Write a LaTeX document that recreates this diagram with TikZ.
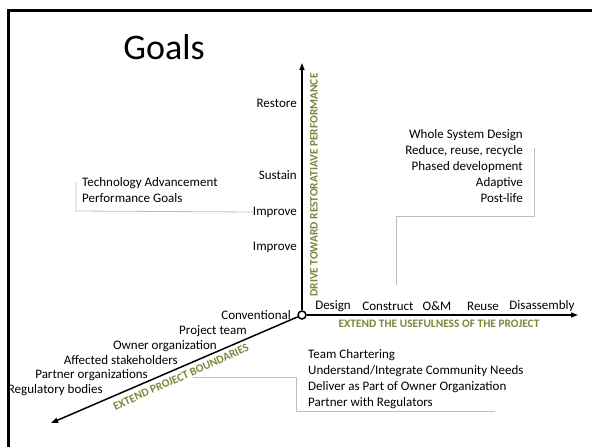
\documentclass[tikz,border=0pt]{standalone}
\usepackage{fontspec}
\setmainfont{Carlito}
\usetikzlibrary{arrows.meta}
\definecolor{olivetxt}{RGB}{128,132,58}
\definecolor{brk}{RGB}{190,190,190}
\tikzset{
  axis/.style={line width=1.5pt,-{Triangle[length=7pt,width=5pt]}},
  lbl/.style={font=\fontsize{13}{15}\selectfont,inner sep=0pt},
  axlbl/.style={font=\fontsize{11.4}{13}\selectfont\bfseries,text=olivetxt,inner sep=0pt},
  bracket/.style={draw=brk,line width=0.8pt},
  listbox/.style={font=\fontsize{13}{16}\selectfont,inner sep=0pt},
}
\begin{document}
\begin{tikzpicture}[x=1pt,y=-1pt]
\useasboundingbox (0,0) rectangle (592,447);
% frame
\draw[line width=3pt] (8.5,447) -- (8.5,10.5) -- (592,10.5);
% title
\node[font=\fontsize{36}{40}\selectfont,inner sep=0pt] (title) at (164,47) {Goals};
% origin and axes
\coordinate (up) at (302,63);
\coordinate (right) at (578,315);
\coordinate (dl) at (51,423);
\node[circle,draw,line width=1.5pt,fill=white,minimum size=8pt,inner sep=0pt] (O) at (302,315) {};
\draw[axis] (O) -- (up);
\draw[axis] (O) -- (right);
\draw[axis] (O) -- (dl);
% axis titles
\node[axlbl,rotate=90] (vt) at (314,185) {DRIVE TOWARD RESTORATIAVE PERFORMANCE};
\node[axlbl] (ht) at (439,324) {EXTEND THE USEFULNESS OF THE PROJECT};
\node[axlbl,rotate=24] (dt) at (181,377) {EXTEND PROJECT BOUNDARIES};
% vertical axis labels
\node[lbl,anchor=east] (restore) at (297,103) {Restore};
\node[lbl,anchor=east] (sustain) at (297,175) {Sustain};
\node[lbl,anchor=east] (improve1) at (297,212) {Improve};
\node[lbl,anchor=east] (improve2) at (297,247) {Improve};
\node[lbl,anchor=east] (conv) at (291,315) {Conventional};
% horizontal axis labels
\node[lbl] (design) at (333,306) {Design};
\node[lbl] (construct) at (388,306) {Construct};
\node[lbl] (om) at (437,306) {O\&M};
\node[lbl] (reuse) at (483,306) {Reuse};
\node[lbl] (disas) at (542,306) {Disassembly};
% diagonal axis labels
\node[lbl,anchor=east] (pteam) at (247,331) {Project team};
\node[lbl,anchor=east] (owner) at (217,346) {Owner organization};
\node[lbl,anchor=east] (affected) at (178,360) {Affected stakeholders};
\node[lbl,anchor=east] (partner) at (148,375) {Partner organizations};
\node[lbl,anchor=east] (reg) at (103,390) {Regulatory bodies};
% technology group
\node[listbox,anchor=north west,align=left] (tech) at (82,177) {Technology Advancement\\Performance Goals};
\coordinate (tb1) at (76,182);
\coordinate (tb2) at (76,211);
\draw[bracket] (tb1) -- (tb2) -- (improve1.west);
% right top group
\node[listbox,anchor=north east,align=right] (life) at (523,129) {Whole System Design\\Reduce, reuse, recycle\\Phased development\\Adaptive\\Post-life};
\coordinate (rb1) at (534,148);
\coordinate (rb2) at (534,216);
\coordinate (rb3) at (396,216);
\coordinate (rb4) at (396,285);
\draw[bracket] (rb1) -- (rb2) -- (rb3) -- (rb4);
% bottom right group
\node[listbox,anchor=north west,align=left] (team) at (308,349) {Team Chartering\\Understand/Integrate Community Needs\\Deliver as Part of Owner Organization\\Partner with Regulators};
\coordinate (bb1) at (193,377);
\coordinate (bb2) at (296,377);
\coordinate (bb3) at (296,411);
\coordinate (bb4) at (495,411);
\draw[bracket] (bb1) -- (bb2) -- (bb3) -- (bb4);
\end{tikzpicture}
\end{document}
